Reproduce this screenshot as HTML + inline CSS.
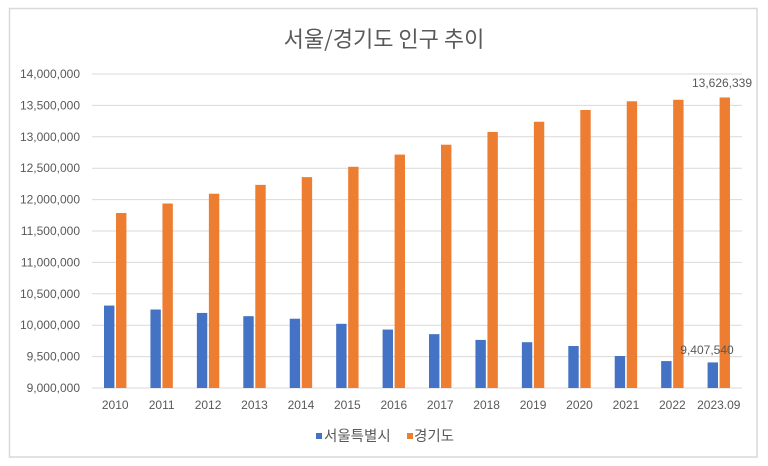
<!DOCTYPE html>
<html>
<head>
<meta charset="utf-8">
<style>
  html,body{margin:0;padding:0;background:#fff;}
  svg{display:block;}
  text{font-family:"Liberation Sans","Noto Sans CJK KR",sans-serif;fill:#595959;}
</style>
</head>
<body>
<svg width="768" height="466" viewBox="0 0 768 466" xmlns="http://www.w3.org/2000/svg">
  <rect x="0" y="0" width="768" height="466" fill="#fff"/>
  <rect x="9.5" y="8.5" width="747.5" height="448.5" fill="#fff" stroke="#d9d9d9" stroke-width="1.5"/>

  <text x="384" y="47" font-size="22" text-anchor="middle" style="font-family:'Noto Sans CJK KR',sans-serif" fill="#595959">서울/경기도 인구 추이</text>

  <g stroke="#d9d9d9" stroke-width="1">
    <line x1="92" x2="742" y1="74" y2="74"/>
    <line x1="92" x2="742" y1="105.4" y2="105.4"/>
    <line x1="92" x2="742" y1="136.8" y2="136.8"/>
    <line x1="92" x2="742" y1="168.2" y2="168.2"/>
    <line x1="92" x2="742" y1="199.6" y2="199.6"/>
    <line x1="92" x2="742" y1="231" y2="231"/>
    <line x1="92" x2="742" y1="262.4" y2="262.4"/>
    <line x1="92" x2="742" y1="293.8" y2="293.8"/>
    <line x1="92" x2="742" y1="325.2" y2="325.2"/>
    <line x1="92" x2="742" y1="356.6" y2="356.6"/>
    <line x1="92" x2="742" y1="388" y2="388"/>
  </g>

  <g font-size="12" text-anchor="end">
    <text x="80" y="78">14,000,000</text>
    <text x="80" y="109.4">13,500,000</text>
    <text x="80" y="140.8">13,000,000</text>
    <text x="80" y="172.2">12,500,000</text>
    <text x="80" y="203.6">12,000,000</text>
    <text x="80" y="235">11,500,000</text>
    <text x="80" y="266.4">11,000,000</text>
    <text x="80" y="297.8">10,500,000</text>
    <text x="80" y="329.2">10,000,000</text>
    <text x="80" y="360.6">9,500,000</text>
    <text x="80" y="392">9,000,000</text>
  </g>

  <g fill="#4472C4">
    <rect x="104.01" y="305.57" width="10.4" height="82.43"/>
    <rect x="150.44" y="309.52" width="10.4" height="78.48"/>
    <rect x="196.87" y="312.93" width="10.4" height="75.07"/>
    <rect x="243.3" y="316.18" width="10.4" height="71.82"/>
    <rect x="289.73" y="318.72" width="10.4" height="69.28"/>
    <rect x="336.16" y="323.81" width="10.4" height="64.19"/>
    <rect x="382.59" y="329.56" width="10.4" height="58.44"/>
    <rect x="429.01" y="334.15" width="10.4" height="53.85"/>
    <rect x="475.44" y="339.92" width="10.4" height="48.08"/>
    <rect x="521.87" y="342.21" width="10.4" height="45.79"/>
    <rect x="568.3" y="346.02" width="10.4" height="41.98"/>
    <rect x="614.73" y="356.01" width="10.4" height="31.99"/>
    <rect x="661.16" y="361.1" width="10.4" height="26.9"/>
    <rect x="707.59" y="362.41" width="10.4" height="25.59"/>
  </g>
  <g fill="#ED7D31">
    <rect x="116.01" y="213" width="10.4" height="175"/>
    <rect x="162.44" y="203.53" width="10.4" height="184.47"/>
    <rect x="208.87" y="193.74" width="10.4" height="194.26"/>
    <rect x="255.3" y="184.87" width="10.4" height="203.13"/>
    <rect x="301.73" y="177.13" width="10.4" height="210.87"/>
    <rect x="348.16" y="166.78" width="10.4" height="221.22"/>
    <rect x="394.59" y="154.59" width="10.4" height="233.41"/>
    <rect x="441.01" y="144.72" width="10.4" height="243.28"/>
    <rect x="487.44" y="131.95" width="10.4" height="256.05"/>
    <rect x="533.87" y="121.75" width="10.4" height="266.25"/>
    <rect x="580.3" y="109.98" width="10.4" height="278.02"/>
    <rect x="626.73" y="101.29" width="10.4" height="286.71"/>
    <rect x="673.16" y="99.78" width="10.4" height="288.22"/>
    <rect x="719.59" y="97.47" width="10.4" height="290.53"/>
  </g>

  <g font-size="12" text-anchor="middle">
    <text x="115.21" y="409">2010</text>
    <text x="161.64" y="409">2011</text>
    <text x="208.07" y="409">2012</text>
    <text x="254.5" y="409">2013</text>
    <text x="300.93" y="409">2014</text>
    <text x="347.36" y="409">2015</text>
    <text x="393.79" y="409">2016</text>
    <text x="440.21" y="409">2017</text>
    <text x="486.64" y="409">2018</text>
    <text x="533.07" y="409">2019</text>
    <text x="579.5" y="409">2020</text>
    <text x="625.93" y="409">2021</text>
    <text x="672.36" y="409">2022</text>
    <text x="718.79" y="409">2023.09</text>
  </g>

  <text x="707" y="354" font-size="12" text-anchor="middle" fill="#404040">9,407,540</text>
  <text x="722" y="87" font-size="12" text-anchor="middle" fill="#404040">13,626,339</text>

  <rect x="316" y="433" width="6" height="6" fill="#4472C4"/>
  <text x="324" y="441" font-size="14.5" style="font-family:'Noto Sans CJK KR',sans-serif">서울특별시</text>
  <rect x="407" y="433" width="6" height="6" fill="#ED7D31"/>
  <text x="414" y="441" font-size="14.5" style="font-family:'Noto Sans CJK KR',sans-serif">경기도</text>
</svg>
</body>
</html>
